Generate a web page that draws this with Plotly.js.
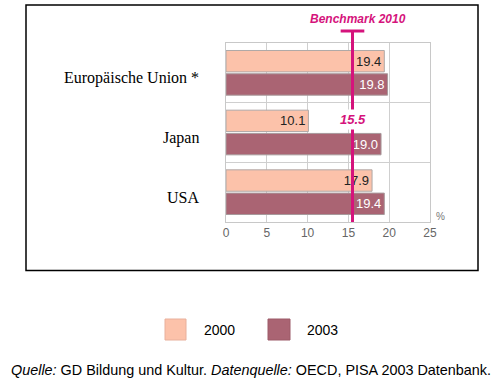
<!DOCTYPE html>
<html>
<head>
<meta charset="utf-8">
<script src="https://cdn.plot.ly/plotly-3.0.1.min.js"></script>
<style>html,body{margin:0;padding:0;background:#fff;}#chart{width:498px;height:385px;}</style>
</head>
<body>
<div id="chart"></div>
<script>
const categories = ["Europäische Union *", "Japan", "USA"];
const years = ["2000", "2003"];
const values2000 = [19.4, 10.1, 17.9];
const values2003 = [19.8, 19.0, 19.4];
const benchmark = 15.5;
const benchmarkLabel = "Benchmark 2010";
const xTicks = [0, 5, 10, 15, 20, 25];
const sourceText = "<i>Quelle:</i> GD Bildung und Kultur. <i>Datenquelle:</i> OECD, PISA 2003 Datenbank.";

const c2000 = "#FCC2AA";
const c2003 = "#AA6473";
const magenta = "#D5137C";

const fmt = v => v.toFixed(1);

const traces = [
  {
    type: "bar", orientation: "h", name: years[0],
    y: categories, x: values2000,
    marker: {color: c2000, line: {color: "#b0a8a6", width: 1}},
    text: values2000.map(fmt), textposition: "inside", insidetextanchor: "end",
    textfont: {family: "Liberation Sans, Arial, sans-serif", size: 13, color: "#222"},
    constraintext: "none", cliponaxis: false, hoverinfo: "skip", showlegend: false
  },
  {
    type: "bar", orientation: "h", name: years[1],
    y: categories, x: values2003,
    marker: {color: c2003, line: {color: "#a89a9c", width: 1}},
    text: values2003.map(fmt), textposition: "inside", insidetextanchor: "end",
    textfont: {family: "Liberation Sans, Arial, sans-serif", size: 13, color: "#fff"},
    constraintext: "none", cliponaxis: false, hoverinfo: "skip", showlegend: false
  }
];

// helpers to convert reference pixel positions to paper coordinates
const L = 226, R = 430, T = 43, B = 222;
const px = X => (X - L) / (R - L);
const py = Y => (B - Y) / (B - T);

const shapes = [
  // frame
  {type: "rect", xref: "paper", yref: "paper", x0: px(26), x1: px(478), y0: py(270.5), y1: py(5),
   line: {color: "#000", width: 1.5}, fillcolor: "rgba(0,0,0,0)", layer: "below"},
  // benchmark line
  {type: "line", xref: "x", yref: "paper", x0: benchmark, x1: benchmark, y0: 0, y1: py(31),
   line: {color: magenta, width: 3}},
  {type: "line", xref: "x", yref: "paper", x0: benchmark - 1.45, x1: benchmark + 1.45, y0: py(31), y1: py(31),
   line: {color: magenta, width: 3}},
  // legend squares
  {type: "rect", xref: "paper", yref: "paper", x0: px(165), x1: px(186), y0: py(340), y1: py(319),
   fillcolor: c2000, line: {color: "#e8b09c", width: 1}},
  {type: "rect", xref: "paper", yref: "paper", x0: px(268), x1: px(290), y0: py(340), y1: py(319),
   fillcolor: c2003, line: {color: "#9c5a68", width: 1}}
];

const annotations = categories.map(c => ({
  xref: "paper", yref: "y", x: px(201), y: c, yshift: -5, text: c, showarrow: false,
  xanchor: "right", yanchor: "middle",
  font: {family: "Liberation Serif, Times New Roman, serif", size: 16, color: "#000"}
}));
annotations.push(
  {xref: "x", yref: "paper", x: benchmark, xshift: 6, y: py(19), text: "<b><i>" + benchmarkLabel + "</i></b>",
   showarrow: false, xanchor: "center", yanchor: "middle",
   font: {family: "Liberation Sans, Arial, sans-serif", size: 12, color: magenta}},
  {xref: "x", yref: "paper", x: benchmark, xshift: 1, y: py(119), text: "<b><i>" + fmt(benchmark) + "</i></b>",
   showarrow: false, xanchor: "center", yanchor: "middle", bgcolor: "#fff", borderpad: 2,
   font: {family: "Liberation Sans, Arial, sans-serif", size: 13, color: magenta}},
  {xref: "paper", yref: "paper", x: px(440), y: py(216), text: "%", showarrow: false,
   xanchor: "center", yanchor: "middle",
   font: {family: "Liberation Sans, Arial, sans-serif", size: 10, color: "#777"}},
  {xref: "paper", yref: "paper", x: px(202), y: py(330), text: years[0], showarrow: false,
   xanchor: "left", yanchor: "middle",
   font: {family: "Liberation Sans, Arial, sans-serif", size: 14, color: "#000"}},
  {xref: "paper", yref: "paper", x: px(305), y: py(330), text: years[1], showarrow: false,
   xanchor: "left", yanchor: "middle",
   font: {family: "Liberation Sans, Arial, sans-serif", size: 14, color: "#000"}},
  {xref: "paper", yref: "paper", x: px(9), y: py(370), text: sourceText, showarrow: false,
   xanchor: "left", yanchor: "middle",
   font: {family: "Liberation Sans, Arial, sans-serif", size: 14.4, color: "#000"}}
);

const layout = {
  width: 498, height: 385,
  margin: {l: L, r: 498 - R, t: T, b: 385 - B, pad: 0},
  paper_bgcolor: "#fff", plot_bgcolor: "#fff",
  barmode: "group", bargap: 0.22, bargroupgap: 0.08,
  showlegend: false,
  xaxis: {
    range: [0, 25], tickvals: xTicks, ticktext: xTicks.map(String),
    showgrid: true, gridcolor: "#cfcfcf", gridwidth: 1,
    zeroline: false, showline: true, linecolor: "#c8c8c8", mirror: true,
    ticks: "", tickfont: {family: "Liberation Sans, Arial, sans-serif", size: 12, color: "#666"},
    fixedrange: true
  },
  yaxis: {
    type: "category", autorange: "reversed", tickson: "boundaries",
    showgrid: true, gridcolor: "#cfcfcf", gridwidth: 1,
    showline: true, linecolor: "#c8c8c8", mirror: true,
    showticklabels: false, ticks: "", fixedrange: true
  },
  shapes: shapes,
  annotations: annotations
};

Plotly.newPlot("chart", traces, layout, {displayModeBar: false, staticPlot: true});
</script>
</body>
</html>
